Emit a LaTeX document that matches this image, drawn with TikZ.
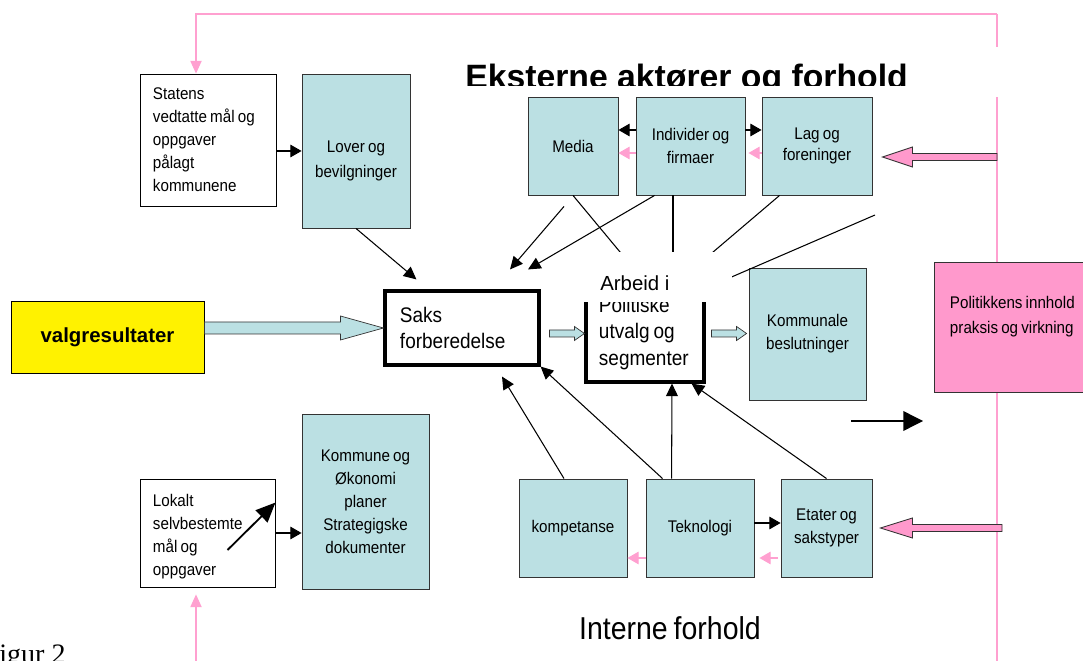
\documentclass[tikz,border=0pt]{standalone}
\usepackage{fontspec}
\setmainfont{Liberation Sans}
\newfontfamily\boxfont[FakeStretch=0.9, WordSpace=0.75]{Liberation Sans}
\newfontfamily\figfont{Liberation Serif}
\usetikzlibrary{arrows.meta, fit, calc, backgrounds}

\definecolor{boxblue}{RGB}{187,224,227}
\definecolor{boxpink}{RGB}{255,153,204}
\definecolor{linepink}{RGB}{255,160,208}
\definecolor{boxedge}{RGB}{51,51,51}

\begin{document}
\begin{tikzpicture}[x=0.025cm, y=-0.025cm,
    snug/.style={execute at begin node={\spaceskip=\fontdimen2\font\relax}},
    fatarrow/.style={draw=boxedge, fill=boxblue, line width=0.5pt},
    pinkfat/.style={draw=boxedge, fill=boxpink, line width=0.6pt}]
\useasboundingbox (0,0) rectangle (1083,661);
\clip (0,0) rectangle (1083,661);

% frame corners and loose ends
\coordinate (ftop) at (196,14);
\coordinate (fright) at (997,14);
\coordinate (fcorner) at (997,700);
\coordinate (fbot) at (196,700);
\coordinate (ce) at (630,264);
\coordinate (de) at (673,265);
\coordinate (ee) at (699,264);
\coordinate (ff1) at (875,215);
\coordinate (ff2) at (720,282);
\coordinate (fa1) at (851,421);
\coordinate (fa2) at (923,421);

% heading
\node (titlebox) [fit={(455,47) (1005,97)}, inner sep=0pt, fill=white] {};
\begin{scope}
    \clip (455,47) rectangle (1005,86);
    \node (title) at (465,89) [anchor=base west, inner sep=0pt, font=\bfseries\fontsize{24}{28}\selectfont] {Eksterne aktører og forhold};
\end{scope}

\begin{scope}[
    every node/.style={rectangle,draw=boxedge,fill=boxblue,line width=0.6pt,align=center,snug,
        font=\boxfont\fontsize{12}{16.3}\selectfont}]
    \node (lover) at (356, 151) [minimum width=2.7cm, minimum height=3.85cm, text width=2.3cm, text depth=5.7pt, font=\boxfont\fontsize{12}{17.7}\selectfont] {Lover og\\bevilgninger};

    % external actors
    \node (media) at (573, 146) [minimum width=2.25cm, minimum height=2.45cm] {Media};
    \node (individ) at (690.5, 146) [minimum width=2.725cm, minimum height=2.45cm] {Individer og\\firmaer};
    \node (lag) at (817, 146) [minimum width=2.75cm, minimum height=2.45cm, font=\boxfont\fontsize{12}{15.4}\selectfont] {Lag og\\foreninger};

    \node (kommunale) at (807.5, 334) [minimum width=2.925cm, minimum height=3.3cm] {Kommunale\\beslutninger};

    \node (kommune) at (365.5, 501.5) [minimum width=3.175cm, minimum height=4.375cm] {Kommune og\\Økonomi\\planer\\Strategigske\\dokumenter};

    % internal conditions
    \node (kompetanse) at (573, 528) [minimum width=2.7cm, minimum height=2.45cm] {kompetanse};
    \node (tekno) at (700, 528) [minimum width=2.7cm, minimum height=2.45cm] {Teknologi};
    \node (etater) at (826.5, 528) [minimum width=2.275cm, minimum height=2.45cm] {Etater og\\sakstyper};
\end{scope}

\begin{scope}[
    every node/.style={rectangle,draw=black,fill=white,line width=0.6pt,align=left,snug,
        inner xsep=0.325cm,font=\boxfont\fontsize{12}{16.3}\selectfont}]
    \node (statens) at (208, 140) [text width=2.75cm, minimum height=3.3cm] {Statens\\vedtatte mål og\\oppgaver\\pålagt\\kommunene};
    \node (lokalt) at (207.5, 533) [text width=2.725cm, minimum height=2.7cm, text depth=46pt] {Lokalt\\selvbestemte\\mål og\\oppgaver};
\end{scope}

\node (valg) at (107.5, 337) [rectangle, draw=black, fill=yellow, line width=0.6pt, minimum width=4.825cm, minimum height=1.8cm, font=\bfseries\fontsize{14.5}{17}\selectfont] {valgresultater};

\node (saks) at (462, 328) [rectangle, draw=black, fill=white, line width=2.2pt, align=left, snug, text width=3.1cm, inner xsep=0.375cm, minimum height=1.85cm, font=\boxfont\fontsize{15}{18.4}\selectfont] {Saks\\forberedelse};

\node (pol) at (645, 333.5) [rectangle, draw=black, fill=white, line width=2.2pt, align=left, snug, text width=2.3cm, inner xsep=0.325cm, minimum height=2.425cm, font=\boxfont\fontsize{15}{19.1}\selectfont] {Politiske\\utvalg og\\segmenter};

\node (politikk) at (1016, 327) [rectangle, draw=boxedge, fill=boxpink, line width=0.6pt, align=left, snug, text width=3.3cm, inner xsep=0.4cm, minimum height=3.25cm, text depth=34.4pt, font=\boxfont\fontsize{12}{17.7}\selectfont] {Politikkens innhold\\praksis og virkning};

% pink frame
\begin{scope}[on background layer, >={Triangle[length=9pt,width=8pt]}]
    \draw [->, linepink, line width=0.8pt] (fright) -- (ftop) -- (ftop |- statens.north);
    \draw [linepink, line width=0.8pt] (fright) -- (fcorner);
    \draw [->, linepink, line width=0.8pt, shorten >=0.175cm] (fcorner) -- (fbot) -- (fbot |- lokalt.south);
\end{scope}

% fat arrows
\path [fatarrow] ($(valg.east |- saks.west)+(0,-6)$) -| ($(saks.west)+(-43,-12)$) -- (saks.west) -- ($(saks.west)+(-43,12)$) |- ($(valg.east |- saks.west)+(0,6)$) -- cycle;
\path [fatarrow] ($(saks.east |- pol.west)+(9,-3.5)$) -| ($(pol.west)+(-10,-7)$) -- (pol.west) -- ($(pol.west)+(-10,7)$) |- ($(saks.east |- pol.west)+(9,3.5)$) -- cycle;
\coordinate (t3) at ($(kommunale.west |- pol.east)+(-2,0)$);
\path [fatarrow] ($(pol.east)+(6,-3.5)$) -| ($(t3)+(-10,-7)$) -- (t3) -- ($(t3)+(-10,7)$) |- ($(pol.east)+(6,3.5)$) -- cycle;

\coordinate (p1) at ($(lag.east)+(10,11)$);
\path [pinkfat] ($(fright |- p1)+(0,-3.5)$) -| ($(p1)+(30,-10)$) -- (p1) -- ($(p1)+(30,10)$) |- ($(fright |- p1)+(0,3.5)$) -- cycle;
\coordinate (p2) at ($(etater.east)+(8,0)$);
\path [pinkfat] ($(fright |- p2)+(5,-3.5)$) -| ($(p2)+(32,-10)$) -- (p2) -- ($(p2)+(32,10)$) |- ($(fright |- p2)+(5,3.5)$) -- cycle;

\begin{scope}[>={Triangle[length=9pt,width=8.5pt]},
              every edge/.style={draw,line width=0.75pt}]
    \path [->] (lover.south) edge ($(saks.north west)+(33,-10)$);
    \path [->] ($(media.south)+(-9,11)$) edge ($(saks.north)+(48,-20)$);
    \path [->] ($(individ.south west)+(19,0)$) edge ($(saks.north)+(66,-20)$);

    \path (media.south) edge (ce);
    \path (de |- individ.south) edge (de);
    \path ($(lag.south west)+(18,0)$) edge (ee);
    \path (ff1) edge (ff2);

    \path [->] ($(kompetanse.north)+(-9,0)$) edge ($(saks.south)+(40,10)$);
    \path [->] ($(tekno.north west)+(17,0)$) edge (saks.south east);
    \path [->] ($(tekno.north west)+(26,0)$) edge ($(pol.south)+(27,0)$);
    \path [->] (etater.north) edge ($(pol.south east)+(-14,0)$);
\end{scope}

\begin{scope}[>={Triangle[length=8pt,width=9pt]},
              every edge/.style={draw,line width=0.75pt}]
    \path [->] (statens.east |- lover.west) edge (lover.west);
    \path [->] ($(individ.west)+(0,-16)$) edge ($(media.east)+(0,-16)$);
    \path [->] ($(individ.east)+(0,-16)$) edge ($(lag.west)+(0,-16)$);
    \path [->] ($(tekno.east)+(0,-5)$) edge ($(etater.west)+(0,-5)$);
    \path [->] (lokalt.east) edge (lokalt.east -| kommune.west);

    \path [->] ($(individ.west)+(0,7)$) edge [linepink] ($(media.east)+(0,7)$);
    \path [->] ($(lag.west)+(0,7)$) edge [linepink] ($(individ.east)+(3,7)$);
    \path [->] ($(tekno.west)+(0,30)$) edge [linepink] ($(kompetanse.east)+(0,30)$);
    \path [->] ($(etater.west)+(-3,30)$) edge [linepink] ($(tekno.east)+(5,30)$);
\end{scope}

% loose arrows
\coordinate (la1) at ($(lokalt.center)+(20,17)$);
\coordinate (la2) at ($(lokalt.north east)+(0,24)$);
\draw [-{Triangle[length=14pt,width=12pt]}, line width=1.3pt] (la1) -- (la2);
\draw [-{Triangle[length=14pt,width=14pt]}, line width=1pt] (fa1) -- (fa2);

% cover over the committee box
\node (arbeidbg) [fit={(583,252) (732,302)}, inner sep=0pt, fill=white] {};
\node (arbeid) at (600, 283) [anchor=west, inner sep=0pt, font=\fontsize{14.5}{17}\selectfont] {Arbeid i};

\node (interne) at (670, 628) [font=\boxfont\fontsize{22.5}{26}\selectfont] {Interne forhold};
\node (figur) at (-1, 663) [anchor=base west, inner sep=0pt, font=\figfont\fontsize{20}{24}\selectfont] {igur 2};
\end{tikzpicture}
\end{document}
